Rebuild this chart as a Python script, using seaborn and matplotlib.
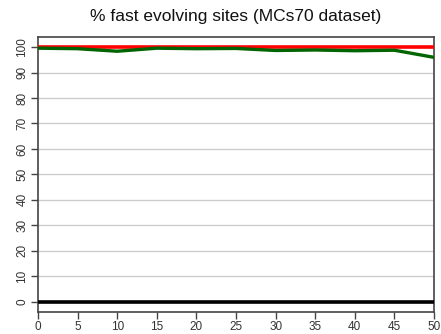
import matplotlib
matplotlib.use("Agg")
import matplotlib.pyplot as plt
import seaborn as sns
import pandas as pd

x_vals = [0, 5, 10, 15, 20, 25, 30, 35, 40, 45, 50]
green_vals = [99.6, 99.4, 98.4, 99.6, 99.4, 99.5, 98.7, 98.9, 98.6, 98.8, 96.0]
red_vals = [100, 100, 100, 100, 100, 100, 100, 100, 100, 100, 100]
black_vals = [0, 0, 0, 0, 0, 0, 0, 0, 0, 0, 0]
y_ticks = [0, 10, 20, 30, 40, 50, 60, 70, 80, 90, 100]
x_ticks = [0, 5, 10, 15, 20, 25, 30, 35, 40, 45, 50]
title = "% fast evolving sites (MCs70 dataset)"

sns.set_style("white")
plt.rcParams['font.family'] = ['Liberation Sans', 'DejaVu Sans']

fig = plt.figure(figsize=(4.41, 3.34), dpi=100)
ax = fig.add_axes([38/441, 1-311.7/334, (434-38)/441, (311.7-37)/334])

for y in y_ticks:
    ax.axhline(y, color="#cccccc", lw=1.0, zorder=1)

df = pd.DataFrame({"x": x_vals, "green": green_vals, "red": red_vals, "black": black_vals})
sns.lineplot(data=df, x="x", y="black", color="black", lw=2.6, ax=ax, zorder=3)
sns.lineplot(data=df, x="x", y="red", color="#ff0000", lw=2.6, ax=ax, zorder=3)
sns.lineplot(data=df, x="x", y="green", color="#006400", lw=2.4, ax=ax, zorder=4)

ax.set_xlim(0, 50)
ax.set_ylim(-4, 104)
ax.set_xticks(x_ticks)
ax.set_yticks(y_ticks)
ax.set_xlabel("")
ax.set_ylabel("")
ax.tick_params(axis="both", direction="out", length=5, width=1, color="#444444",
               labelsize=8.5, labelcolor="#333333", pad=2, left=True, bottom=True)
for lab in ax.get_yticklabels():
    lab.set_rotation(90)
    lab.set_va("center")
for s in ax.spines.values():
    s.set_color("#444444")
    s.set_linewidth(1.2)

fig.text((38 + 434) / 2 / 441, 1-17/334, title, ha="center", va="center",
         fontsize=12.5, color="#111111")

fig.savefig("out.png", dpi=100)
